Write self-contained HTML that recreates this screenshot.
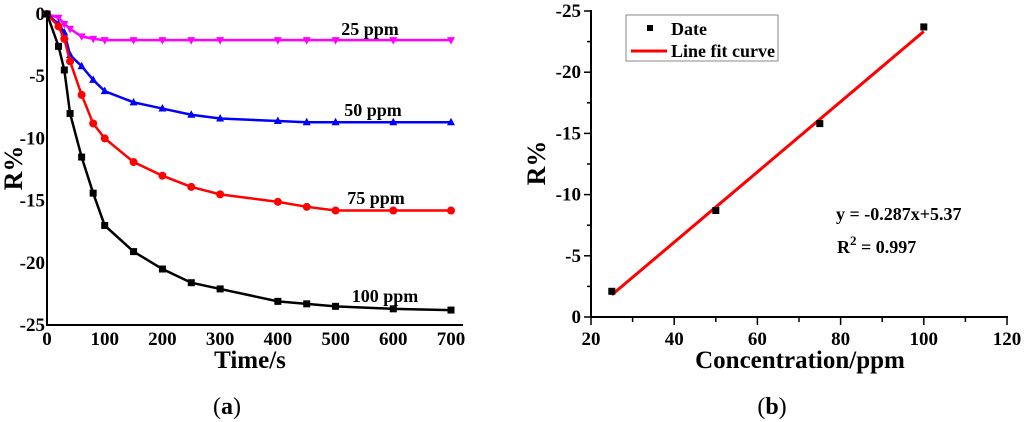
<!DOCTYPE html>
<html><head><meta charset="utf-8"><style>
body{margin:0;background:#fff;}
svg{display:block;font-family:"Liberation Serif",serif;font-weight:bold;}
</style></head><body>
<svg id="c" width="1024" height="422" viewBox="0 0 1024 422"></svg>
<script>
const times=[0,20,30,40,60,80,100,150,200,250,300,400,450,500,600,700];
const s100=[0,-2.6,-4.5,-8,-11.5,-14.4,-17,-19.1,-20.5,-21.6,-22.1,-23.1,-23.3,-23.5,-23.7,-23.8];
const s75=[0,-1,-2,-3.8,-6.5,-8.8,-10,-11.9,-13,-13.9,-14.5,-15.1,-15.5,-15.8,-15.8,-15.8];
const s50=[0,-0.8,-1.5,-3.3,-4.2,-5.3,-6.2,-7.1,-7.6,-8.1,-8.4,-8.6,-8.7,-8.7,-8.7,-8.7];
const s25=[0,-0.3,-0.8,-1.2,-1.8,-2.0,-2.1,-2.1,-2.1,-2.1,-2.1,-2.1,-2.1,-2.1,-2.1,-2.1];
const xTicksA=[0,100,200,300,400,500,600,700];
const yTicksA=[0,-5,-10,-15,-20,-25];
const conc=[25,50,75,100];
const resp=[-2.1,-8.7,-15.8,-23.7];
const fitSlope=-0.287, fitIntercept=5.37;
const xTicksB=[20,40,60,80,100,120];
const yTicksB=[0,-5,-10,-15,-20,-25];

const svg=document.getElementById('c');
const NS='http://www.w3.org/2000/svg';
function el(tag,attrs,parent){const e=document.createElementNS(NS,tag);for(const k in attrs)e.setAttribute(k,attrs[k]);(parent||svg).appendChild(e);return e;}
function txt(x,y,s,size,anchor,parent){const t=el('text',{x:x,y:y,'font-size':size,'text-anchor':anchor||'middle'},parent);t.textContent=s;return t;}

// Panel A
const ax=t=>47+t*(451-47)/700;
const ay=v=>14+(-v)*(325-14)/25;
const gA=el('g',{});


el('line',{x1:47,y1:12,x2:47,y2:326,stroke:'#000','stroke-width':2},gA);
el('line',{x1:46,y1:325,x2:463,y2:325,stroke:'#000','stroke-width':2},gA);
xTicksA.forEach(t=>{const e=txt(ax(t),345,t,19,'middle',gA);});
yTicksA.forEach(v=>{const e=txt(45,ay(v)+6,v,19,'end',gA);});
const tA=txt(250,368,'Time/s',25,'middle',gA);


const yA=el('text',{transform:'translate(22,168) rotate(-90)','font-size':26,'text-anchor':'middle'},gA);yA.textContent='R%';


const series=[[s25,'#ff00ff','tri-down','25 ppm'],[s50,'#0000ff','tri-up','50 ppm'],[s75,'#ff0000','circle','75 ppm'],[s100,'#000000','square','100 ppm']];
const labelPos={'25 ppm':[370,35],'50 ppm':[373,116],'75 ppm':[376,204],'100 ppm':[385,302]};
series.forEach(([d,c,m,name])=>{
  const g=el('g',{},gA);
  
  
  el('polyline',{points:times.map((t,i)=>ax(t)+','+ay(d[i])).join(' '),fill:'none',stroke:c,'stroke-width':2.5},g);
  times.forEach((t,i)=>{const x=ax(t),y=ay(d[i]);let mk;
    if(m==='square')mk=el('rect',{x:x-3.5,y:y-3.5,width:7,height:7,fill:c},g);
    else if(m==='circle')mk=el('circle',{cx:x,cy:y,r:4,fill:c},g);
    else if(m==='tri-up')mk=el('polygon',{points:`${x},${y-4.5} ${x-4},${y+3} ${x+4},${y+3}`,fill:c},g);
    else mk=el('polygon',{points:`${x},${y+4.5} ${x-4},${y-3} ${x+4},${y-3}`,fill:c},g);
    
    
  });
  const lp=labelPos[name];const l=txt(lp[0],lp[1],name,18,'middle',gA);
  
  
});
const capA=el('text',{x:227,y:414,'font-size':24,'text-anchor':'middle','font-weight':'normal'});capA.innerHTML='(<tspan font-weight="bold">a</tspan>)';



// Panel B
const bx=v=>591+(v-20)*(1007-591)/100;
const by=v=>317+v*(317-11)/25;
const gB=el('g',{});


el('line',{x1:591,y1:10,x2:591,y2:318,stroke:'#000','stroke-width':2},gB);
el('line',{x1:590,y1:317,x2:1008,y2:317,stroke:'#000','stroke-width':2},gB);
for(let v=20;v<=120;v+=10){el('line',{x1:bx(v),y1:317,x2:bx(v),y2:v%20?322:325,stroke:'#000','stroke-width':1.5},gB);}
for(let v=0;v>=-25;v-=2.5){el('line',{x1:591,y1:by(v),x2:Number.isInteger(v/5)?584:587,y2:by(v),stroke:'#000','stroke-width':1.5},gB);}
xTicksB.forEach(t=>{const e=txt(bx(t),345,t,19,'middle',gB);});
yTicksB.forEach(v=>{const e=txt(581,by(v)+6,v,19,'end',gB);});
const tB=txt(800,368,'Concentration/ppm',25,'middle',gB);


const yB=el('text',{transform:'translate(545,163) rotate(-90)','font-size':26,'text-anchor':'middle'},gB);yB.textContent='R%';


const fit=el('line',{x1:bx(conc[0]),y1:by(fitSlope*conc[0]+fitIntercept),x2:bx(conc[conc.length-1]),y2:by(fitSlope*conc[conc.length-1]+fitIntercept),stroke:'#ff0000','stroke-width':3},gB);


conc.forEach((c,i)=>{const r=el('rect',{x:bx(c)-3.5,y:by(resp[i])-3.5,width:7,height:7,fill:'#000'},gB);
  
  });
const lg=el('g',{},gB);


el('rect',{x:626,y:15,width:152,height:46,fill:'#fff',stroke:'#888','stroke-width':1},lg);
el('rect',{x:647,y:25,width:6,height:6,fill:'#000'},lg);
txt(671,35,'Date',18,'start',lg);
el('line',{x1:631,y1:51,x2:667,y2:51,stroke:'#ff0000','stroke-width':3},lg);
txt(671,57,'Line fit curve',18,'start',lg);
const eq=txt(836,220,'y = -0.287x+5.37',18,'start',gB);


const r2=el('text',{x:837,y:253,'font-size':18},gB);r2.innerHTML='R<tspan dy="-8" font-size="13">2</tspan><tspan dy="8"> = 0.997</tspan>';


const capB=el('text',{x:772,y:414,'font-size':24,'text-anchor':'middle','font-weight':'normal'});capB.innerHTML='(<tspan font-weight="bold">b</tspan>)';


</script>
</body></html>
